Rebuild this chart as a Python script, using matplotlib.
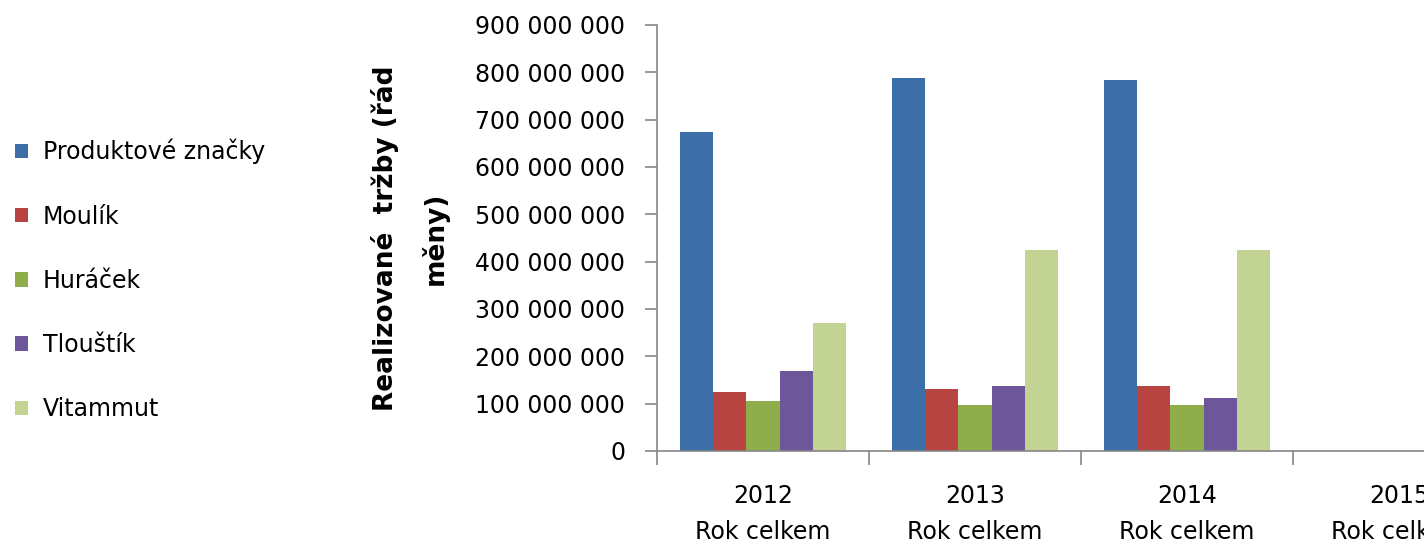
import numpy as np
import matplotlib
matplotlib.use("Agg")
import matplotlib.pyplot as plt
from matplotlib.ticker import FuncFormatter

# data
years = ["2012", "2013", "2014", "2015"]
sub_label = "Rok celkem"
brands = ["Produktové značky", "Moulík", "Huráček", "Tlouštík", "Vitammut"]
produktove = [674e6, 788e6, 783e6, 0]
moulik = [124e6, 131e6, 137e6, 0]
huracek = [105e6, 97e6, 97e6, 0]
tloustik = [169e6, 137e6, 111e6, 0]
vitammut = [270e6, 424e6, 424e6, 0]
colors = ["#3C6FA8", "#B84442", "#8FAD4B", "#6E569A", "#C3D394"]

series = [produktove, moulik, huracek, tloustik, vitammut]

fig = plt.figure(figsize=(14.24, 5.49), dpi=100)
# axes runs past the right edge, so the 4th category is cut off like in the original
ax = fig.add_axes([657 / 1424, 98 / 549, 848 / 1424, 426 / 549])

x = np.arange(len(years))
width = 0.157
offsets = (np.arange(len(series)) - 2) * width
for vals, off, col, name in zip(series, offsets, colors, brands):
    ax.bar(x + off, vals, width, color=col, label=name, linewidth=0)

ax.set_xlim(-0.5, len(years) - 0.5)
ax.set_ylim(0, 900e6)
ax.set_yticks(np.arange(0, 900e6 + 1, 100e6))
ax.yaxis.set_major_formatter(FuncFormatter(lambda v, p: f"{int(v):,}".replace(",", " ")))

# category boundaries get tick marks, centres get the labels
ax.set_xticks(np.arange(-0.5, len(years), 1.0))
ax.set_xticklabels([])
ax.set_xticks(x, minor=True)
ax.set_xticklabels([f"{y}\n{sub_label}" for y in years], minor=True, linespacing=1.6)
ax.tick_params(axis="x", which="minor", length=0, pad=24, labelsize=17)
ax.tick_params(axis="x", which="major", length=10, width=1.2, color="#868686")
ax.tick_params(axis="y", length=9, width=1.2, color="#868686", pad=14, labelsize=17)

for s in ["top", "right"]:
    ax.spines[s].set_visible(False)
for s in ["left", "bottom"]:
    ax.spines[s].set_color("#868686")
    ax.spines[s].set_linewidth(1.2)

ax.set_ylabel("Realizované  tržby (řád\nměny)", fontsize=19, fontweight="bold",
              linespacing=2.0, va="center", ha="center")
ax.yaxis.set_label_coords(-0.291, 0.5)

fig.legend(loc="center left", bbox_to_anchor=(15 / 1424, 0.49), frameon=False,
           fontsize=17, handlelength=0.55, handleheight=0.55, handletextpad=0.64,
           labelspacing=1.7, borderpad=0, borderaxespad=0)

fig.savefig("out.png", dpi=100)
